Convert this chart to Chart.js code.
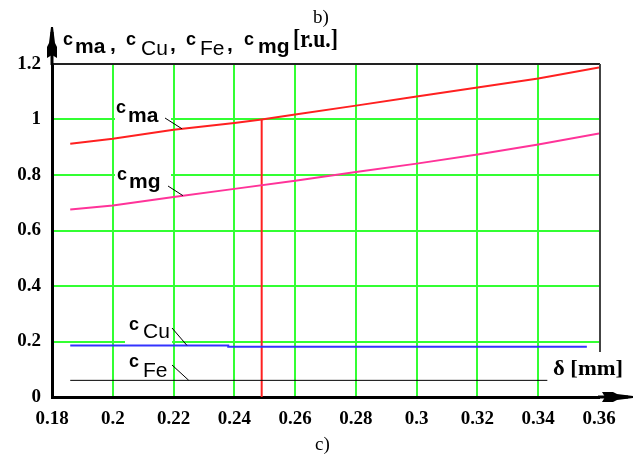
<!DOCTYPE html>
<html>
<head>
<meta charset="utf-8">
<script src="https://cdn.jsdelivr.net/npm/chart.js@4"></script>
<style>
html,body{margin:0;padding:0;background:#fff;}
#c{display:block;}
</style>
</head>
<body>
<canvas id="c" width="635" height="464" style="width:635px;height:464px"></canvas>
<script>
// ---- data ----
const xTicks = [0.18,0.2,0.22,0.24,0.26,0.28,0.3,0.32,0.34,0.36];
const xTickLabels = ['0.18','0.2','0.22','0.24','0.26','0.28','0.3','0.32','0.34','0.36'];
const yTicks = [0,0.2,0.4,0.6,0.8,1,1.2];
const yTickLabels = ['0','0.2','0.4','0.6','0.8','1','1.2'];

const cmaX = [0.186,0.2,0.22,0.24,0.249,0.26,0.28,0.3,0.32,0.34,0.36];
const cmaY = [0.913,0.931,0.963,0.987,1.0,1.018,1.05,1.083,1.115,1.148,1.187];
const cmgX = [0.186,0.2,0.22,0.24,0.26,0.28,0.3,0.32,0.34,0.36];
const cmgY = [0.676,0.69,0.721,0.75,0.779,0.811,0.841,0.874,0.91,0.95];
const cuX  = [0.186,0.238,0.238,0.356];
const cuY  = [0.186,0.186,0.181,0.181];
const feX  = [0.186,0.343];
const feY  = [0.06,0.06];
const markX = [0.249,0.249];
const markY = [0,1.0];

const pts = (xs,ys)=>xs.map((x,i)=>({x:x,y:ys[i]}));
function interp(xs,ys,x){
  for(let i=0;i<xs.length-1;i++){
    if(x>=xs[i] && x<=xs[i+1]){
      if(xs[i+1]===xs[i]) return ys[i];
      return ys[i]+(ys[i+1]-ys[i])*(x-xs[i])/(xs[i+1]-xs[i]);
    }
  }
  return ys[ys.length-1];
}

const GREEN = '#33ff33';

function txt(ctx,s,x,y,font,fitW){
  ctx.save();
  ctx.font=font;
  ctx.textAlign='left';
  ctx.textBaseline='alphabetic';
  ctx.translate(x,y);
  if(fitW){ const w=ctx.measureText(s).width; ctx.scale(fitW/w,1); }
  ctx.fillStyle='#000';
  ctx.fillText(s,0,0);
  ctx.restore();
}

const curveLabels = [
  {sub:'ma', bold:true,  cx:116, cy:113, mx:128, my:122, lx:165, ly:118, px:0.2228, xs:cmaX, ys:cmaY, box:[115,102,171,126]},
  {sub:'mg', bold:true,  cx:117, cy:180, mx:129, my:188, lx:168, ly:186, px:0.2231, xs:cmgX, ys:cmgY, box:[115,166,171,194]},
  {sub:'Cu', bold:false, cx:129, cy:330, mx:143, my:338, lx:172, ly:328, px:0.2244, xs:cuX,  ys:cuY,  box:[125,316,172,344]},
  {sub:'Fe', bold:false, cx:129, cy:367, mx:143, my:377, lx:172, ly:365, px:0.2250, xs:feX,  ys:feY,  box:null}
];

const SUBC = 'bold 18px "Liberation Sans"';

const deco = {
  id:'deco',
  afterDatasetsDraw(chart){
    const ctx=chart.ctx, xs=chart.scales.x, ys=chart.scales.y;
    curveLabels.forEach(l=>{
      if(l.box){
        ctx.fillStyle='#fff';
        ctx.fillRect(l.box[0],l.box[1],l.box[2]-l.box[0],l.box[3]-l.box[1]);
      }
      txt(ctx,'c',l.cx,l.cy,SUBC);
      txt(ctx,l.sub,l.mx,l.my,(l.bold?'bold ':'')+'21px "Liberation Sans"');
      const ex=xs.getPixelForValue(l.px), ey=ys.getPixelForValue(interp(l.xs,l.ys,l.px));
      ctx.save();
      ctx.strokeStyle='#000'; ctx.lineWidth=1;
      ctx.beginPath(); ctx.moveTo(l.lx,l.ly); ctx.lineTo(ex,ey); ctx.stroke();
      ctx.restore();
    });
  },
  afterDraw(chart){
    const ctx=chart.ctx, a=chart.chartArea;
    ctx.save();
    // top frame
    ctx.strokeStyle='#222'; ctx.lineWidth=2;
    ctx.beginPath(); ctx.moveTo(a.left,a.top); ctx.lineTo(a.right+1,a.top); ctx.stroke();
    // right frame (partial)
    ctx.strokeStyle='#444';
    ctx.beginPath(); ctx.moveTo(a.right+1,a.top); ctx.lineTo(a.right+1,352); ctx.stroke();
    // axis extensions
    ctx.strokeStyle='#000'; ctx.lineWidth=3;
    ctx.beginPath(); ctx.moveTo(a.left,a.top+1); ctx.lineTo(a.left,32); ctx.stroke();
    ctx.beginPath(); ctx.moveTo(a.right-1,a.bottom); ctx.lineTo(628,a.bottom); ctx.stroke();
    // y arrow
    ctx.fillStyle='#000';
    const X=a.left;
    ctx.beginPath();
    ctx.moveTo(X-1,27); ctx.lineTo(X+1,27); ctx.lineTo(X+3,43); ctx.lineTo(X+5,47); ctx.lineTo(X+5,58);
    ctx.lineTo(X,55); ctx.lineTo(X-5,58); ctx.lineTo(X-5,47); ctx.lineTo(X-3,43); ctx.closePath(); ctx.fill();
    // x arrow
    const Y=a.bottom;
    ctx.beginPath();
    ctx.moveTo(633,Y-1); ctx.lineTo(633,Y+1); ctx.lineTo(617,Y+3); ctx.lineTo(613,Y+5); ctx.lineTo(602,Y+5);
    ctx.lineTo(605,Y); ctx.lineTo(602,Y-5); ctx.lineTo(613,Y-5); ctx.lineTo(617,Y-3); ctx.closePath(); ctx.fill();
    ctx.restore();

    // axis title (top)
    const mb='bold 21px "Liberation Sans"', mr='21px "Liberation Sans"';
    txt(ctx,'c',63,45,SUBC); txt(ctx,'ma',75,53,mb); txt(ctx,',',110,51,mb);
    txt(ctx,'c',126,45,SUBC); txt(ctx,'Cu',141,55,mr); txt(ctx,',',170,51,mb);
    txt(ctx,'c',186,45,SUBC); txt(ctx,'Fe',200,55,mr); txt(ctx,',',227,51,mb);
    txt(ctx,'c',244,45,SUBC); txt(ctx,'mg',258,53,mb);
    txt(ctx,'[r.u.]',293,47,'bold 25px "Liberation Serif"',45);
    // x axis title
    txt(ctx,'\u03b4 [mm]',553,375,'bold 22px "Liberation Serif"',70);
    // captions
    txt(ctx,'b)',313,23,'19px "Liberation Serif"');
    txt(ctx,'c)',315,450,'19px "Liberation Serif"');
  }
};

const tickFont = {family:'Liberation Serif', size:19, weight:'bold'};

new Chart(document.getElementById('c').getContext('2d'),{
  type:'line',
  data:{datasets:[
    {label:'cma', data:pts(cmaX,cmaY), borderColor:'#ff2020', borderWidth:2},
    {label:'cmg', data:pts(cmgX,cmgY), borderColor:'#ff3399', borderWidth:2},
    {label:'cCu', data:pts(cuX,cuY), borderColor:'#3333ff', borderWidth:2},
    {label:'cFe', data:pts(feX,feY), borderColor:'#000000', borderWidth:1},
    {label:'mark', data:pts(markX,markY), borderColor:'#ff2020', borderWidth:2}
  ]},
  options:{
    responsive:false, animation:false, devicePixelRatio:1,
    layout:{padding:{left:0,top:64,right:36,bottom:37}},
    plugins:{legend:{display:false}, tooltip:{enabled:false}},
    elements:{point:{radius:0}, line:{tension:0, fill:false}},
    scales:{
      x:{
        type:'linear', min:0.18, max:0.36,
        afterFit(s){ s.height=30; },
        afterBuildTicks(s){ s.ticks = xTicks.map(v=>({value:v})); },
        ticks:{callback:(v)=>xTickLabels[xTicks.indexOf(v)], font:tickFont, color:'#000', padding:11, maxRotation:0, autoSkip:false},
        grid:{color:c=>(c.tick && c.tick.value>0.185 && c.tick.value<0.355)?GREEN:'rgba(0,0,0,0)', lineWidth:2, drawTicks:false},
        border:{display:true, color:'#000', width:3}
      },
      y:{
        type:'linear', min:0, max:1.2,
        afterFit(s){ s.width=52; },
        afterBuildTicks(s){ s.ticks = yTicks.map(v=>({value:v})); },
        ticks:{callback:(v)=>yTickLabels[yTicks.indexOf(v)], font:tickFont, color:'#000', padding:11, autoSkip:false},
        grid:{color:c=>(c.tick && c.tick.value>0.1 && c.tick.value<1.1)?GREEN:'rgba(0,0,0,0)', lineWidth:2, drawTicks:false},
        border:{display:true, color:'#000', width:3}
      }
    }
  },
  plugins:[deco]
});
</script>
</body>
</html>
